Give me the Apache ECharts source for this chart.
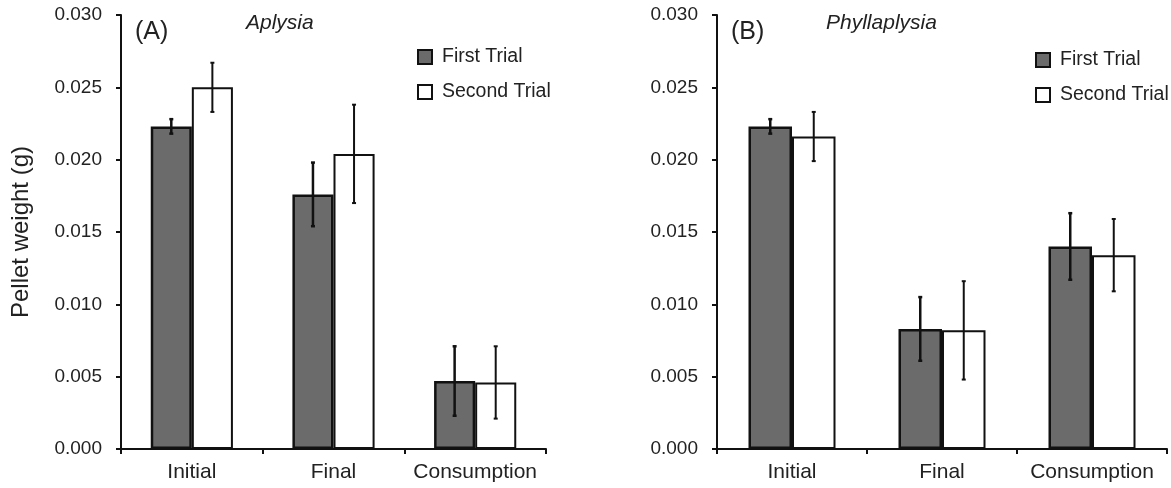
<!DOCTYPE html>
<html>
<head>
<meta charset="utf-8">
<script src="https://cdn.jsdelivr.net/npm/echarts@6/dist/echarts.min.js"></script>
<style>
html,body{margin:0;padding:0;background:#fff;}
#chart{width:1171px;height:488px;}
</style>
</head>
<body>
<div id="chart"></div>
<script>
const categories = ['Initial', 'Final', 'Consumption'];
const seriesNames = ['First Trial', 'Second Trial'];
const yTicks = [0, 0.005, 0.010, 0.015, 0.020, 0.025, 0.030];

// Panel A: Aplysia
const aplysiaFirst = [0.0223, 0.0176, 0.0047];
const aplysiaFirstErr = [0.0005, 0.0022, 0.0024];
const aplysiaSecond = [0.0250, 0.0204, 0.0046];
const aplysiaSecondErr = [0.0017, 0.0034, 0.0025];

// Panel B: Phyllaplysia
const phyllFirst = [0.0223, 0.0083, 0.0140];
const phyllFirstErr = [0.0005, 0.0022, 0.0023];
const phyllSecond = [0.0216, 0.0082, 0.0134];
const phyllSecondErr = [0.0017, 0.0034, 0.0025];

const FONT = '"Liberation Sans", Arial, Helvetica, sans-serif';
const DARK = '#6b6b6b';
const BAR_FRAC = 0.29;

function errSeries(name, idx, vals, errs, sign, lw) {
  return {
    type: 'custom',
    name: name,
    xAxisIndex: idx, yAxisIndex: idx,
    z: 10,
    silent: true,
    data: vals.map((v, i) => [i, v, errs[i]]),
    renderItem: function (params, api) {
      const x = api.value(0), v = api.value(1), e = api.value(2);
      const band = api.size([1, 0])[0];
      const off = band * BAR_FRAC / 2 * sign;
      const p1 = api.coord([x, v + e]);
      const p2 = api.coord([x, v - e]);
      const cx = p1[0] + off;
      const cap = 2;
      const st = { stroke: '#111', lineWidth: lw };
      return {
        type: 'group',
        children: [
          { type: 'line', shape: { x1: cx, y1: p1[1], x2: cx, y2: p2[1] }, style: st },
          { type: 'line', shape: { x1: cx - cap, y1: p1[1], x2: cx + cap, y2: p1[1] }, style: st },
          { type: 'line', shape: { x1: cx - cap, y1: p2[1], x2: cx + cap, y2: p2[1] }, style: st }
        ]
      };
    }
  };
}

function barSeries(name, idx, vals, dark) {
  return {
    type: 'bar',
    name: name,
    xAxisIndex: idx, yAxisIndex: idx,
    data: vals,
    barWidth: (BAR_FRAC * 100) + '%',
    barGap: '0%',
    itemStyle: dark
      ? { color: DARK, borderColor: '#111', borderWidth: 2.5 }
      : { color: '#ffffff', borderColor: '#111', borderWidth: 2 },
    emphasis: { disabled: true }
  };
}

function xAxis(idx) {
  return {
    type: 'category', gridIndex: idx, data: categories,
    axisLine: { lineStyle: { color: '#111', width: 2 } },
    axisTick: { show: true, length: 5, alignWithLabel: false, lineStyle: { color: '#111', width: 2 } },
    axisLabel: { interval: 0, color: '#222', fontSize: 21, fontFamily: FONT, margin: 13 }
  };
}

function yAxis(idx, name) {
  return {
    type: 'value', gridIndex: idx, min: 0, max: 0.030, interval: 0.005,
    name: name, nameLocation: 'middle', nameGap: 88,
    nameTextStyle: { color: '#222', fontSize: 24, fontFamily: FONT },
    axisLine: { show: true, lineStyle: { color: '#111', width: 2 } },
    axisTick: { show: true, length: 5, lineStyle: { color: '#111', width: 2 } },
    splitLine: { show: false },
    axisLabel: {
      color: '#222', fontSize: 19, fontFamily: FONT, margin: 19,
      formatter: v => {
        const t = yTicks.find(k => Math.abs(k - v) < 1e-9);
        return (t !== undefined ? t : v).toFixed(3);
      }
    }
  };
}

const legendCommon = {
  orient: 'vertical', icon: 'rect', itemWidth: 14, itemHeight: 14, itemGap: 15,
  data: seriesNames, selectedMode: false,
  itemStyle: { borderColor: '#111', borderWidth: 2 },
  textStyle: { color: '#222', fontSize: 19.5, fontFamily: FONT, padding: [0, 0, 0, 5] },
  padding: 0
};

const option = {
  backgroundColor: '#ffffff',
  animation: false,
  title: [
    { text: '(A)', left: 130, top: 15, textStyle: { fontSize: 25, fontWeight: 'normal', color: '#222', fontFamily: FONT } },
    { text: 'Aplysia', left: 241, top: 8, textStyle: { fontSize: 21, fontStyle: 'italic', fontWeight: 'normal', color: '#222', fontFamily: FONT } },
    { text: '(B)', left: 726, top: 15, textStyle: { fontSize: 25, fontWeight: 'normal', color: '#222', fontFamily: FONT } },
    { text: 'Phyllaplysia', left: 821, top: 8, textStyle: { fontSize: 21, fontStyle: 'italic', fontWeight: 'normal', color: '#222', fontFamily: FONT } }
  ],
  legend: [
    Object.assign({}, legendCommon, { left: 417, top: 47 }),
    Object.assign({}, legendCommon, { left: 1035, top: 50 })
  ],
  grid: [
    { left: 121, right: 625, top: 15, bottom: 39 },
    { left: 717, right: 4, top: 15, bottom: 39 }
  ],
  xAxis: [xAxis(0), xAxis(1)],
  yAxis: [yAxis(0, 'Pellet weight (g)'), yAxis(1, '')],
  series: [
    barSeries(seriesNames[0], 0, aplysiaFirst, true),
    barSeries(seriesNames[1], 0, aplysiaSecond, false),
    barSeries(seriesNames[0], 1, phyllFirst, true),
    barSeries(seriesNames[1], 1, phyllSecond, false),
    errSeries('errA1', 0, aplysiaFirst, aplysiaFirstErr, -1, 2.5),
    errSeries('errA2', 0, aplysiaSecond, aplysiaSecondErr, 1, 2),
    errSeries('errB1', 1, phyllFirst, phyllFirstErr, -1, 2.5),
    errSeries('errB2', 1, phyllSecond, phyllSecondErr, 1, 2)
  ]
};

const chart = echarts.init(document.getElementById('chart'), null, { renderer: 'canvas' });
chart.setOption(option);
</script>
</body>
</html>
